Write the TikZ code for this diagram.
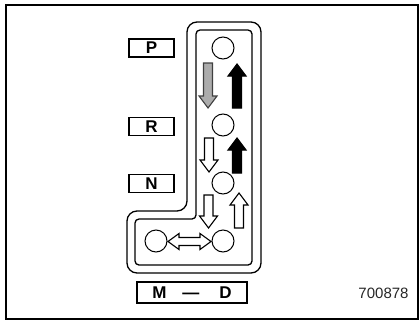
\documentclass[tikz,border=0pt]{standalone}
\usepackage{fontspec}
\setmainfont{Liberation Sans}
\usetikzlibrary{positioning}

\tikzset{
  % block arrow along +x, length #1
  pics/gatearrow/.style={code={
    \path[pic actions] (0,-4.5) -- (#1-12,-4.5) -- (#1-12,-9) -- (#1,0) -- (#1-12,9) -- (#1-12,4.5) -- (0,4.5) -- cycle;}},
  % double block arrow along +x, length #1
  pics/gatedouble/.style={code={
    \path[pic actions] (0,0) -- (11,-8) -- (11,-4) -- (#1-11,-4) -- (#1-11,-8) -- (#1,0) -- (#1-11,8) -- (#1-11,4) -- (11,4) -- (11,8) -- cycle;}},
}

\begin{document}
\begin{tikzpicture}[x=1pt, y=-1pt,
    gatelabel/.style={draw, line width=1.2pt, minimum width=45pt, minimum height=18pt, inner sep=0pt, font=\bfseries\fontsize{17}{17}\selectfont},
    gatepos/.style={circle, draw, line width=1pt, minimum size=22pt, inner sep=0pt},
    outline/.style={draw, line width=1.3pt},
    whitearrow/.style={draw, line width=1.1pt, fill=white},
    blackarrow/.style={draw, line width=1.1pt, fill=black},
    grayarrow/.style={draw=black!75, line width=1.1pt, fill=gray!65}]
	\useasboundingbox (0,0) rectangle (419,321);
	% Frame:
	\draw[line width=1.5pt] (6,5) rectangle (418,319);
	% Gate outlines:
	\draw[outline, rounded corners=10pt] (187,22) -- (261,22) -- (261,273) -- (127,273) -- (127,211) -- (187,211) -- cycle;
	\draw[outline, rounded corners=4pt] (196,30) -- (252,30) -- (252,265) -- (135,265) -- (135,219) -- (196,219) -- cycle;
	% Positions:
	\node[gatepos] (posP) at (223,48) {};
	\node[gatepos] (posR) at (223,125) {};
	\node[gatepos] (posN) at (223,183) {};
	\node[gatepos] (posD) at (223,241) {};
	\node[gatepos] (posM) at (156,241) {};
	% Labels:
	\node[gatelabel] (lblP) at (151.5,48) {P};
	\node[gatelabel] (lblR) at (151.5,126.5) {R};
	\node[gatelabel] (lblN) at (151.5,183.5) {N};
	\node[gatelabel, minimum width=110pt, minimum height=21pt] (lblMD) at (192,292.5) {M\hspace{16pt}—\hspace{20pt}D};
	\node[font=\fontsize{15}{15}\selectfont, text=black!85] (code) at (383.5,293) {700878};
	% Shift arrows:
	\pic[grayarrow, rotate=-90] at (208,63) {gatearrow=45};
	\pic[blackarrow, rotate=90] at (237,108) {gatearrow=44};
	\pic[whitearrow, rotate=-90] at (209,138) {gatearrow=34};
	\pic[blackarrow, rotate=90] at (237,173) {gatearrow=35};
	\pic[whitearrow, rotate=-90] at (208.5,195) {gatearrow=33};
	\pic[whitearrow, rotate=90] at (239,228) {gatearrow=35};
	\pic[whitearrow] at (168,241.5) {gatedouble=43};
\end{tikzpicture}
\end{document}
